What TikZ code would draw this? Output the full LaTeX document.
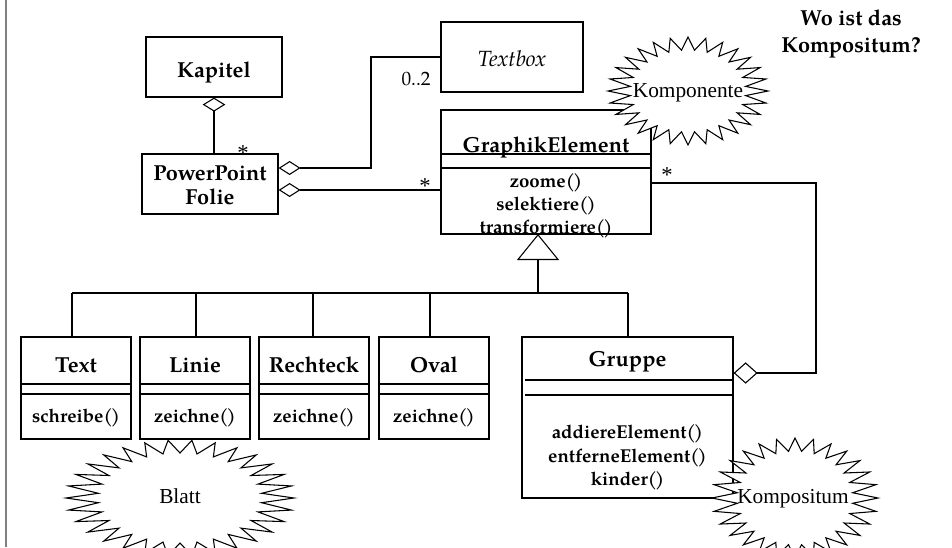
\documentclass[tikz,border=0pt]{standalone}
\usepackage{fontspec}
\setmainfont{Liberation Serif}
\newfontfamily\pal{texgyrepagella}[Extension=.otf, UprightFont=*-regular, BoldFont=*-bold, ItalicFont=*-italic, BoldItalicFont=*-bolditalic]
\usetikzlibrary{arrows.meta}
\newcommand{\pp}{(\kern-0.1em)}
% starburst: cx cy rx ry irx iry lastindex(2n-1) n
\newcommand{\starpath}[8]{%
  \draw[fill=white, line width=0.8pt, line join=miter] ({#1+#3},{#2})
    \foreach \k in {1,...,#7} {-- ({#1+(isodd(\k)?#5:#3)*cos(\k*180/#8)},{#2+(isodd(\k)?#6:#4)*sin(\k*180/#8)})} -- cycle;}
\begin{document}
\begin{tikzpicture}[x=0.75pt,y=-0.75pt,
  umlbox/.style={draw, line width=0.9pt, inner sep=0pt},
  ttl/.style={anchor=base, inner sep=0pt, font=\pal\bfseries\fontsize{16.3}{19}\selectfont},
  mth/.style={anchor=base, inner sep=0pt, font=\pal\bfseries\fontsize{14}{16}\selectfont},
  lbl/.style={anchor=base, inner sep=0pt, font=\pal\fontsize{14.5}{16}\selectfont},
  ast/.style={anchor=base, inner sep=0pt, font=\fontsize{17}{18}\selectfont},
  star/.style={anchor=base, inner sep=0pt, font=\fontsize{16}{18}\selectfont},
  conn/.style={line width=0.8pt},
  sep/.style={line width=0.8pt}]
\useasboundingbox (0,0) rectangle (952,547);
\draw[gray, line width=1.5pt] (5.5,0) -- (5.5,547);

% question
\node[ttl] (q1) at (851,25) {Wo ist das};
\node[ttl] (q2) at (851,52) {Kompositum?};

% Kapitel
\node[umlbox, minimum width=102pt, minimum height=45pt] (kap) at (214,67) {};
\node[ttl] (kapt) at (214,77) {Kapitel};
% PowerPoint Folie
\node[umlbox, minimum width=102pt, minimum height=45pt] (ppf) at (210,184) {};
\node[ttl] (ppf1) at (210,180) {PowerPoint};
\node[ttl] (ppf2) at (210,204) {Folie};
% Textbox
\node[umlbox, minimum width=106.5pt, minimum height=52.5pt] (tb) at (512,57) {};
\node[ttl, font=\pal\itshape\fontsize{16.5}{18}\selectfont] (tbt) at (512,66) {Textbox};
% GraphikElement
\node[umlbox, minimum width=157.5pt, minimum height=93pt] (ge) at (546,172) {};
\draw[sep] (ge.west |- 0,154) -- (ge.east |- 0,154);
\draw[sep] (ge.west |- 0,168) -- (ge.east |- 0,168);
\node[ttl] (get) at (546,152) {GraphikElement};
\node[mth] (gem1) at (546,187) {zoome\pp};
\node[mth] (gem2) at (546,210) {selektiere\pp};
\node[mth] (gem3) at (546,233) {transformiere\pp};

% leaf boxes
\foreach \nm/\cx/\t/\m in {txt/76/Text/schreibe, lin/195/Linie/zeichne, rec/314/Rechteck/zeichne, ova/434/Oval/zeichne}{
  \node[umlbox, minimum width=82.5pt, minimum height=76.5pt] (\nm) at (\cx,388) {};
  \draw[sep] (\nm.west |- 0,384) -- (\nm.east |- 0,384);
  \draw[sep] (\nm.west |- 0,394) -- (\nm.east |- 0,394);
  \node[ttl] (\nm-t) at (\cx,372) {\t};
  \node[mth] (\nm-m) at (\cx,422) {\m\pp};
}
% Gruppe
\node[umlbox, minimum width=158.25pt, minimum height=120.75pt] (gr) at (627.5,417.5) {};
\draw[sep] (525,380) -- (gr.east |- 0,380);
\draw[sep] (525,395) -- (gr.east |- 0,395);
\node[ttl] (grt) at (627.5,366) {Gruppe};
\node[mth] (grm1) at (627.5,438) {addiereElement\pp};
\node[mth] (grm2) at (627.5,462) {entferneElement\pp};
\node[mth] (grm3) at (627.5,485) {kinder\pp};

% associations
\draw[conn, {Diamond[open,length=10.5pt,width=17pt]}-] (kap.south) -- (kap.south |- ppf.north);
\node[ast] (s1) at (243,160) {*};
\coordinate (pa) at (ppf.east |- 0,168);
\coordinate (pb) at (ppf.east |- 0,190);
\draw[conn, {Diamond[open,length=16.5pt,width=10.5pt]}-] (pa) -- (371,168) -- (371,57) -- (tb.west);
\node[lbl] (s2) at (416,85) {0..2};
\draw[conn, {Diamond[open,length=16.5pt,width=10.5pt]}-] (pb) -- (ge.west |- pb);
\node[ast] (s3) at (425,193) {*};
\coordinate (gr-d) at (gr.east |- 0,373);
\draw[conn, {Diamond[open,length=18pt,width=16pt]}-] (gr-d) -- (816,373) -- (816,183) -- (ge.east |- 0,183);
\node[ast] (s4) at (667,182) {*};

% generalization
\coordinate (apex) at (538,234);
\coordinate (bar) at (538,293);
\draw[conn, -{Triangle[open,length=19.5pt,width=31.5pt]}] (bar) -- (apex);
\draw[conn] (72,293) -- (628,293);
\foreach \nm/\xx in {txt/72, lin/196, rec/313, ova/430, gr/628}{
  \draw[conn] (\xx,293) -- (\xx,337);
}

% stars
\starpath{688}{91}{80}{54}{58}{41}{55}{28}
\node[star] (komp) at (688,97) {Komponente};
\starpath{180}{498}{114}{58}{82}{45}{59}{30}
\node[star] (blatt) at (180,503) {Blatt};
\starpath{795}{498}{83}{60}{58}{47}{55}{28}
\node[star] (kompos) at (793,503) {Kompositum};
\end{tikzpicture}
\end{document}
